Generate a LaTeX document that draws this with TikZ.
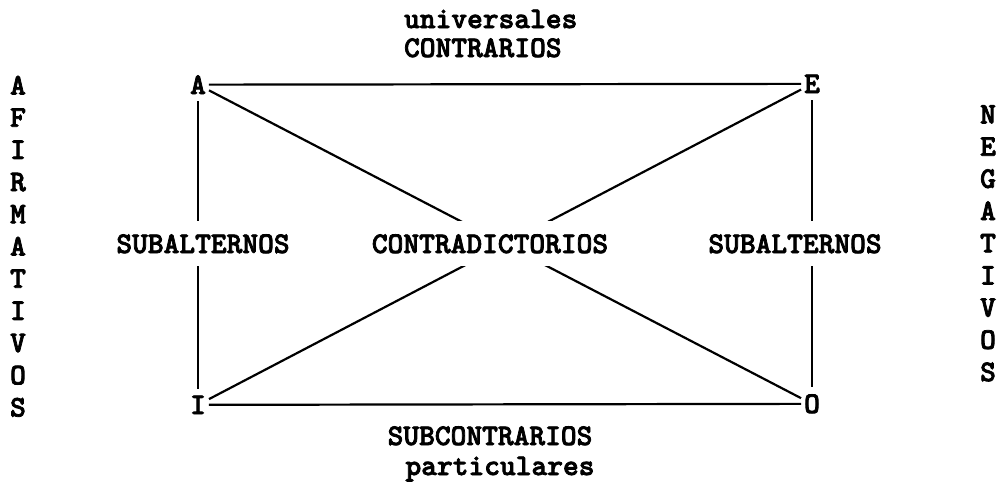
\documentclass[tikz,border=0pt]{standalone}
\usepackage{fontspec}
\setmonofont{lmmonolt10-bold.otf}[FakeBold=2.5]
\usetikzlibrary{calc}
\tikzset{
    txt/.style={font=\ttfamily\bfseries\fontsize{15}{18}\selectfont, inner sep=0pt, anchor=base},
    corner/.style={txt, inner xsep=1pt, inner ysep=3pt},
    gap/.style={txt, fill=white, inner xsep=1pt, inner ysep=6.5pt},
}

\begin{document}
\begin{tikzpicture}[x=0.5pt, y=-0.5pt, line width=1.1pt]
    \useasboundingbox (0,0) rectangle (999,483);
    \node[corner] (A) at (198, 94) {A};
    \node[corner] (E) at (812, 93) {E};
    \node[corner] (I) at (198, 414) {I};
    \node[corner] (O) at (812, 413) {O};
    \draw (A) -- (E);
    \draw (I) -- (O);
    \draw (A) -- (I);
    \draw (E) -- (O);
    \draw (A) -- (O);
    \draw (I) -- (E);
    \node[gap] (contra) at (490, 253) {CONTRADICTORIOS};
    \node[gap] (subL) at (203, 253) {SUBALTERNOS};
    \node[gap] (subR) at (795, 253) {SUBALTERNOS};
    \node[txt, anchor=base west] (univ) at (403, 28) {universales};
    \node[txt, anchor=base west] (contrarios) at (403, 57) {CONTRARIOS};
    \node[txt] (subcontra) at (490, 445) {SUBCONTRARIOS};
    \node[txt] (partic) at (500, 475) {particulares};
    \foreach \l [count=\i from 0] in {A,F,I,R,M,A,T,I,V,O,S}
        \node[txt] (afirm\i) at (18, 94.5+32.2*\i) {\l};
    \foreach \l [count=\i from 0] in {N,E,G,A,T,I,V,O,S}
        \node[txt] (neg\i) at (988, 123.5+32.2*\i) {\l};
\end{tikzpicture}
\end{document}
